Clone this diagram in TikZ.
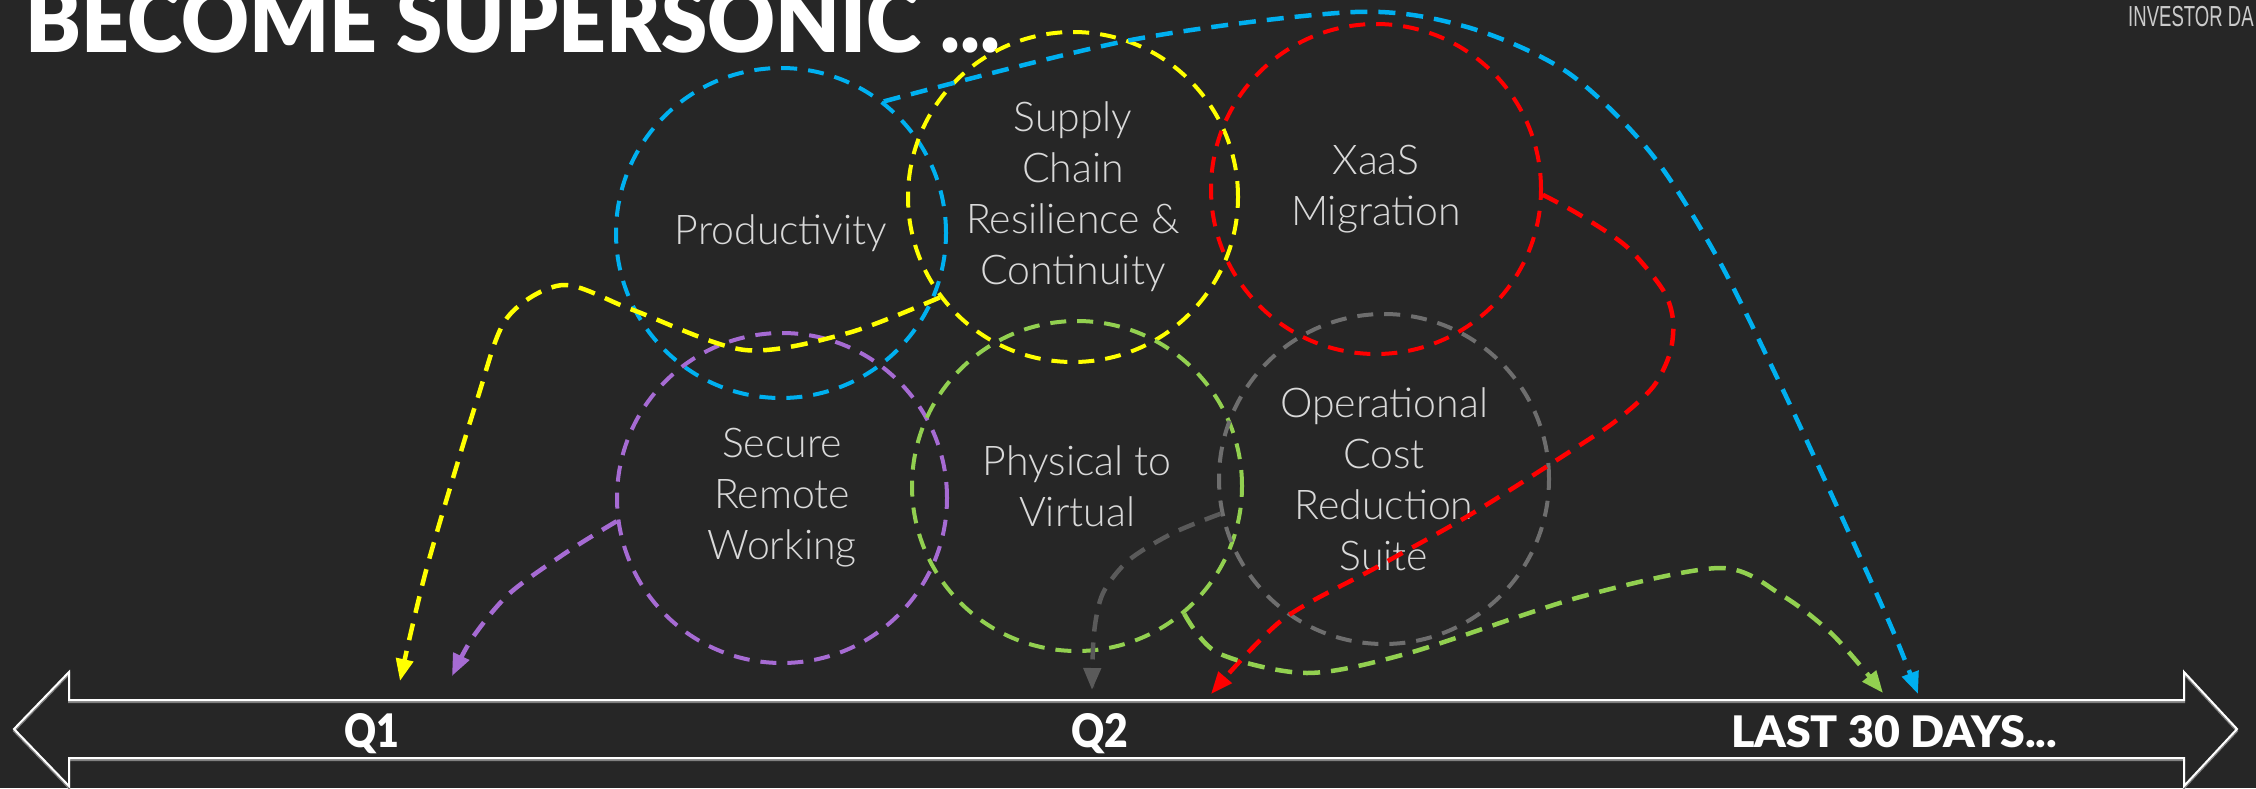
\documentclass[tikz,border=0pt]{standalone}
\usepackage{fontspec}
\setmainfont{Liberation Sans}
\newfontfamily\lightfont{Lato Light}
\newfontfamily\heavyfont{Lato Black}
\usetikzlibrary{arrows.meta}

\definecolor{bgdark}{HTML}{262626}
\definecolor{cblue}{HTML}{00B0F0}
\definecolor{cyellow}{HTML}{FFFF00}
\definecolor{cred}{HTML}{FF0000}
\definecolor{cpurple}{HTML}{A66BD3}
\definecolor{cgreen}{HTML}{92D050}
\definecolor{cgrey}{HTML}{6E6E6E}
\definecolor{cgreyline}{HTML}{5A5A5A}
\definecolor{ctext}{HTML}{D9D9D9}

\begin{document}
\begin{tikzpicture}[
		x=1pt, y=-1pt,
		bubblenode/.style={
		% The shape:
		circle,
		% The size:
		minimum size=330pt, inner sep=0pt,
		% The border:
		line width=4pt, dash pattern=on 16pt off 11pt,
		% Font
		text=ctext, align=center,
		font=\lightfont\fontsize{41}{51}\selectfont
    		},
		flowline/.style={
		line width=4.5pt, dash pattern=on 17pt off 11pt,
		-{Triangle[length=22pt,width=17pt]}
    		},
		boldlabel/.style={
		text=white, inner sep=0pt, anchor=base,
		font=\heavyfont
    		}
	]
	\useasboundingbox (0,0) rectangle (2256,788);
	\fill[bgdark] (0,0) rectangle (2256,788);

	\node (title)[text=white, inner sep=0pt, anchor=base west, font=\heavyfont] at (25,52) {\resizebox{975pt}{66pt}{BECOME SUPERSONIC ...}};
	\node (investor)[text=ctext!85!gray, inner sep=0pt, anchor=base west, font=\fontsize{29}{29}\selectfont] at (2128,26) {\scalebox{0.64}[1]{INVESTOR DA}};

	% timeline, shadow first
	\draw[gray, line width=2pt, yshift=-2pt] (14,729) -- (69,672) -- (69,700) -- (2184,700) -- (2184,672) -- (2237,729) -- (2184,786) -- (2184,758) -- (69,758) -- (69,786) -- cycle;
	\draw[white, line width=2pt] (14,729) -- (69,672) -- (69,700) -- (2184,700) -- (2184,672) -- (2237,729) -- (2184,786) -- (2184,758) -- (69,758) -- (69,786) -- cycle;

	\node (q1)[boldlabel] at (372,747) {\resizebox{55pt}{34pt}{Q1}};
	\node (q2)[boldlabel] at (1100,747) {\resizebox{57pt}{34pt}{Q2}};
	\node (last)[boldlabel] at (1894,747) {\resizebox{326pt}{32pt}{LAST 30 DAYS...}};

	\node (prod)[bubblenode, draw=cblue] at (781,233) {Productivity};
	\node (supply)[bubblenode, draw=cyellow] at (1073,197) {Supply\\Chain\\Resilience \&\\Continuity};
	\node (xaas)[bubblenode, draw=cred] at (1376,189) {XaaS\\Migration};
	\node (remote)[bubblenode, draw=cpurple] at (782,498) {Secure\\Remote\\Working};
	\node (virtual)[bubblenode, draw=cgreen] at (1077,486) {Physical to\\Virtual};
	\node (opcost)[bubblenode, draw=cgrey] at (1384,479) {Operational\\Cost\\Reduction\\Suite};

	\coordinate (endq1a) at (400,681);
	\coordinate (endq1b) at (452,676);
	\coordinate (endq2a) at (1092,690);
	\coordinate (endq2b) at (1211,694);
	\coordinate (endlasta) at (1883,693);
	\coordinate (endlastb) at (1918,694);

	\draw [flowline, cyellow] plot[smooth] coordinates {(supply.217) (848,333) (745,350) (633,310) (563,285) (507,318) (477,400) (427,567) (endq1a)};
	\draw [flowline, cpurple] plot[smooth] coordinates {(remote.188) (567,552) (510,593) (473,637) (endq1b)};
	\draw [flowline, cgreyline] plot[smooth] coordinates {(opcost.192) (1173,533) (1129,560) (1103,593) (1094,633) (endq2a)};
	\draw [flowline, cred] plot[smooth] coordinates {(xaas.358) (1580,215) (1627,247) (1663,290) (1673,320) (1670,353) (1653,387) (1617,420) (1577,447) (1473,513) (1377,567) (1282,620) (endq2b)};
	\draw [flowline, cgreen] plot[smooth] coordinates {(virtual.310) (1218,653) (1307,673) (1409,653) (1580,597) (1720,568) (1783,596) (1833,635) (endlasta)};
	\draw [flowline, cblue] plot[smooth] coordinates {(prod.52) (1131,40) (1355,12) (1467,27) (1567,72) (1650,152) (1717,257) (1783,390) (1850,535) (1893,631) (endlastb)};
\end{tikzpicture}
\end{document}
